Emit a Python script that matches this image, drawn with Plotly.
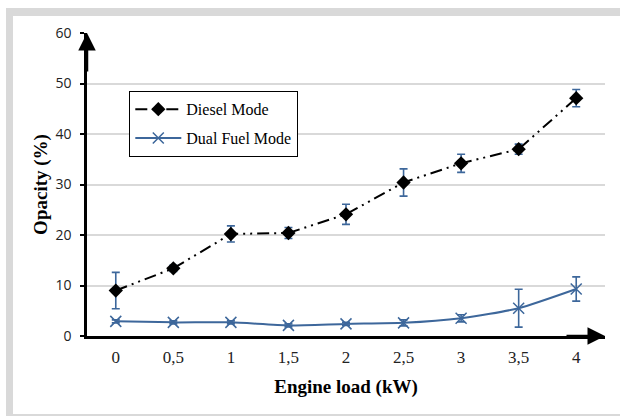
import plotly.graph_objects as go

loads = [0, 0.5, 1, 1.5, 2, 2.5, 3, 3.5, 4]
tick_labels = ["0", "0,5", "1", "1,5", "2", "2,5", "3", "3,5", "4"]
diesel = [9.0, 13.4, 20.2, 20.4, 24.1, 30.4, 34.2, 37.0, 47.1]
diesel_err = [3.6, 0.6, 1.6, 1.1, 2.0, 2.7, 1.8, 1.0, 1.7]
dual = [2.9, 2.7, 2.7, 2.1, 2.4, 2.6, 3.5, 5.5, 9.3]
dual_err = [0.3, 0.3, 0.3, 0.3, 0.3, 0.6, 0.7, 3.75, 2.4]

BLUE = "#3D679B"
SERIF = "Liberation Serif"

# plot-area pixel geometry
L, R, T, B = 87, 15, 33, 80
W, H = 620, 416
PW, PH = W - L - R, H - T - B

def px(x):
    return (x - L) / PW

def py(y):
    return (H - B - y) / PH

fig = go.Figure()

fig.add_trace(go.Scatter(
    x=loads, y=diesel, name="Diesel Mode", mode="lines+markers", legendgroup="a",
    line=dict(color="black", width=2, dash="12px,5px,2px,5px,2px,5px"),
    marker=dict(symbol="diamond", size=11, color="black"),
    error_y=dict(type="data", array=diesel_err, color=BLUE, thickness=1.6, width=4),
))
fig.add_trace(go.Scatter(
    x=loads, y=dual, name="Dual Fuel Mode", mode="lines+markers", legendgroup="b",
    line=dict(color=BLUE, width=2, shape="spline", smoothing=0.6),
    marker=dict(symbol="x-thin", size=11, line=dict(color=BLUE, width=1.5), color=BLUE),
    error_y=dict(type="data", array=dual_err, color=BLUE, thickness=1.6, width=4),
))

shapes = []
gray = "#D9D9D9"
# frame bands
for (x0, y0, x1, y1) in [(6, 8, 620, 16), (6, 8, 13, 416), (6, 414, 620, 416)]:
    shapes.append(dict(type="rect", xref="paper", yref="paper",
                       x0=px(x0), x1=px(x1), y0=py(y0), y1=py(y1),
                       fillcolor=gray, line=dict(width=0), layer="below"))

annotations = [
    dict(x=-0.25, y=60, xref="x", yref="y", ax=0, ay=40,
         showarrow=True, arrowhead=2, arrowsize=1.4, arrowwidth=2.5, arrowcolor="black", text=""),
    dict(x=4.25, y=0, xref="x", yref="y", ax=-40, ay=0,
         showarrow=True, arrowhead=2, arrowsize=1.4, arrowwidth=2.5, arrowcolor="black", text=""),
]

fig.update_layout(
    width=W, height=H,
    margin=dict(l=L, r=R, t=T, b=B),
    paper_bgcolor="white", plot_bgcolor="white",
    shapes=shapes, annotations=annotations,
    showlegend=True,
    legend=dict(x=px(129), y=py(91), xanchor="left", yanchor="top",
                bgcolor="white", bordercolor="black", borderwidth=1.3,
                font=dict(family=SERIF, size=16, color="black"),
                tracegroupgap=5, itemwidth=46),
    xaxis=dict(range=[-0.25, 4.25], tickvals=loads, ticktext=tick_labels,
               showgrid=False, zeroline=False,
               showline=True, linecolor="black", linewidth=2.5,
               ticks="", ticklabelstandoff=4,
               tickfont=dict(family=SERIF, size=17, color="#222"),
               title=dict(text="<b>Engine load (kW)</b>",
                          font=dict(family=SERIF, size=19, color="black"), standoff=14)),
    yaxis=dict(range=[0, 60], tickvals=[0, 10, 20, 30, 40, 50, 60],
               showgrid=True, gridcolor=gray, gridwidth=1.5, zeroline=False,
               showline=True, linecolor="black", linewidth=2.5,
               ticks="outside", ticklen=4, tickwidth=1.5, tickcolor="black",
               ticklabelstandoff=6,
               tickfont=dict(family="Open Sans", size=14, color="#222"),
               title=dict(text="<b>Opacity (%)</b>",
                          font=dict(family=SERIF, size=19, color="black"), standoff=3)),
)

fig.write_html("out.html")
